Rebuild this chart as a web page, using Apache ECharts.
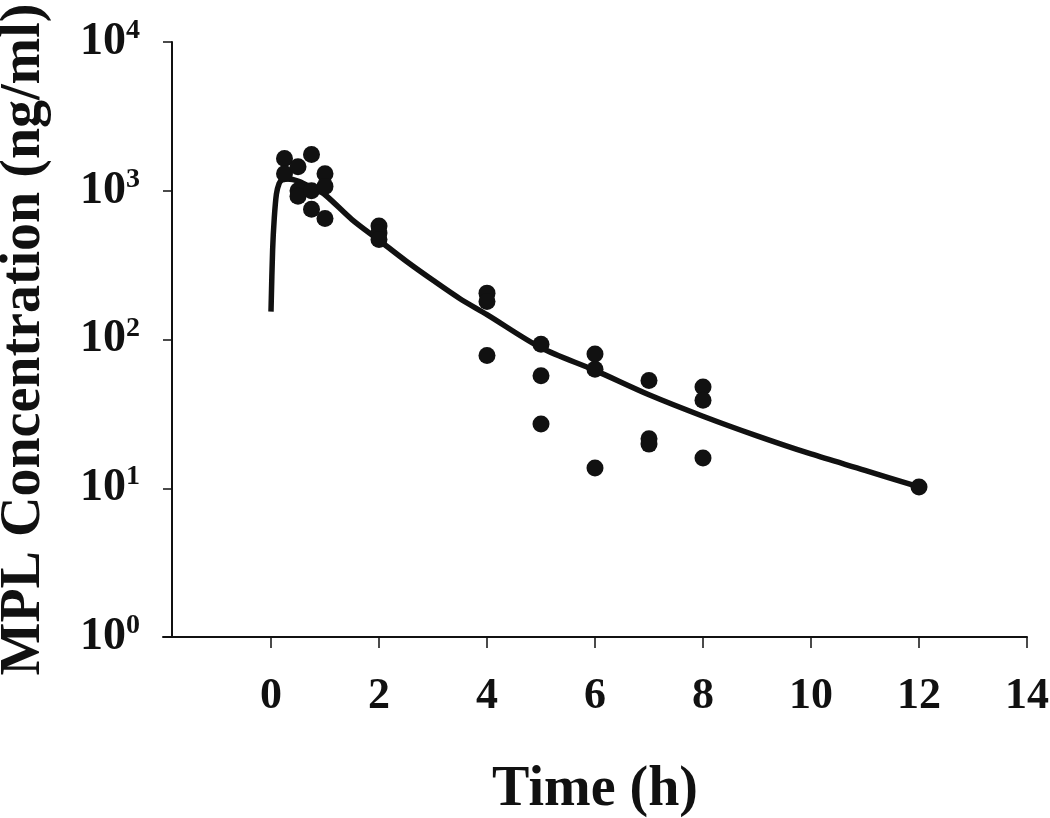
<!DOCTYPE html>
<html>
<head>
<meta charset="utf-8">
<script src="https://cdn.jsdelivr.net/npm/echarts@6/dist/echarts.min.js"></script>
<style>
html,body{margin:0;padding:0;background:#fff;}
#chart{width:1050px;height:818px;}
</style>
</head>
<body>
<div id="chart"></div>
<script>
// Observed concentrations: [time (h), concentration (ng/ml)]
var observedTimes = [0.25, 0.25, 0.5, 0.5, 0.5, 0.75, 0.75, 0.75, 1, 1, 1, 2, 2, 2, 4, 4, 4, 5, 5, 5, 6, 6, 6, 7, 7, 7, 8, 8, 8, 12];
var observedConc  = [1650, 1300, 1450, 1000, 920, 1750, 1000, 750, 1300, 1070, 650, 580, 520, 470, 205, 180, 78, 93, 57, 27, 80, 63, 13.7, 53, 21.5, 19.8, 48, 39, 16, 10.2];

// Model-fitted curve
var curveTimes = [0, 0.03, 0.06, 0.1, 0.15, 0.2, 0.3, 0.4, 0.5, 0.6, 0.8, 1.0, 1.5, 2, 2.5, 3, 3.5, 4, 5, 6, 7, 8, 9, 10, 11, 12];
var curveConc  = [154, 400, 650, 950, 1120, 1180, 1200, 1190, 1160, 1120, 1030, 940, 640, 465, 337, 250, 188, 147, 88, 62, 42.5, 30.5, 22.5, 17, 13.2, 10.2];

var xTickValues = [0, 2, 4, 6, 8, 10, 12, 14];

var xTitle = 'Time (h)';
var yTitle = 'MPL Concentration (ng/ml)';

var scatterData = observedTimes.map(function (t, i) { return [t, observedConc[i]]; });
var curveData = curveTimes.map(function (t, i) { return [t, curveConc[i]]; });

var chart = echarts.init(document.getElementById('chart'), null, {renderer: 'canvas'});
var serif = '"Liberation Serif", "DejaVu Serif", serif';
var ink = '#111';

chart.setOption({
  animation: false,
  backgroundColor: '#fff',
  grid: {left: 163, right: 23, top: 42, bottom: 181, containLabel: false, outerBoundsMode: 'none'},
  xAxis: {
    type: 'value',
    min: -2, max: 14, interval: 2,
    axisLine: {show: true, onZero: false, lineStyle: {color: ink, width: 2}},
    axisTick: {show: true, inside: false, length: 11, customValues: xTickValues, lineStyle: {color: ink, width: 1.5}},
    axisLabel: {customValues: xTickValues, margin: 38, color: ink, fontFamily: serif, fontWeight: 'bold', fontSize: 44},
    splitLine: {show: false},
    name: xTitle,
    nameLocation: 'middle',
    nameGap: 126,
    nameTextStyle: {color: ink, fontFamily: serif, fontWeight: 'bold', fontSize: 56}
  },
  yAxis: {
    type: 'log', logBase: 10,
    min: 1, max: 10000,
    offset: -9,
    axisLine: {show: true, onZero: false, lineStyle: {color: ink, width: 2}},
    axisTick: {show: true, inside: false, length: 9, lineStyle: {color: ink, width: 1.5}},
    minorTick: {show: false},
    splitLine: {show: false},
    axisLabel: {
      margin: 32,
      color: ink,
      formatter: function (v) {
        var e = Math.round(Math.log(v) / Math.LN10);
        return '{b|10}{s|' + e + '}';
      },
      rich: {
        b: {fontFamily: serif, fontWeight: 'bold', fontSize: 46, color: ink},
        s: {fontFamily: serif, fontWeight: 'bold', fontSize: 28, color: ink, padding: [0, 0, 22, 0]}
      }
    },
    name: yTitle,
    nameLocation: 'middle',
    nameRotate: 90,
    nameGap: 119,
    nameTextStyle: {color: ink, fontFamily: serif, fontWeight: 'bold', fontSize: 56}
  },
  series: [
    {
      type: 'line',
      data: curveData,
      showSymbol: false,
      smooth: 0.3,
      lineStyle: {color: ink, width: 5.5},
      z: 2
    },
    {
      type: 'scatter',
      data: scatterData,
      symbol: 'circle',
      symbolSize: 17,
      itemStyle: {color: ink, opacity: 1},
      z: 3
    }
  ]
});
</script>
</body>
</html>
